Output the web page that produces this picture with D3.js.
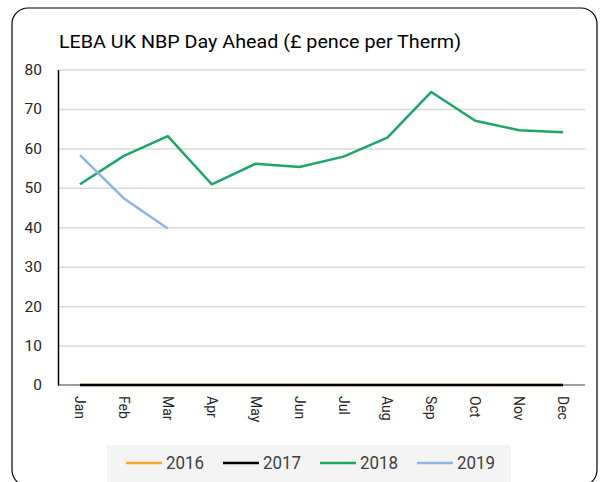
<!DOCTYPE html>
<html>
<head>
<meta charset="utf-8">
<script src="https://cdn.jsdelivr.net/npm/d3@7"></script>
<style>
  html, body { margin: 0; padding: 0; background: #fff; }
  svg { display: block; }
</style>
</head>
<body>
<svg id="chart" width="600" height="482"></svg>
<script>
// chart values
const months = ['Jan','Feb','Mar','Apr','May','Jun','Jul','Aug','Sep','Oct','Nov','Dec'];
const yTicks = [0, 10, 20, 30, 40, 50, 60, 70, 80];
const years = ['2016', '2017', '2018', '2019'];
const v2016 = [0, 0, 0, 0, 0, 0, 0, 0, 0, 0, 0, 0];
const v2017 = [0, 0, 0, 0, 0, 0, 0, 0, 0, 0, 0, 0];
const v2018 = [50.9, 58.1, 63.1, 50.9, 56.1, 55.3, 57.9, 62.7, 74.3, 67.0, 64.6, 64.1];
const v2019 = [58.3, 47.3, 39.7];
const colors = ['#ffa632', '#000000', '#1fa565', '#8fb4e3'];

const svg = d3.select('#chart');
const plotL = 58, plotR = 585, plotT = 69.5, plotB = 385;

// frame
svg.append('rect')
  .attr('x', 12).attr('y', 8).attr('width', 585).attr('height', 478)
  .attr('rx', 16).attr('fill', '#fff').attr('stroke', '#000').attr('stroke-width', 1.2);

// title
svg.append('text')
  .attr('x', 59).attr('y', 47.5)
  .attr('font-family', 'Roboto').attr('font-size', 17.5).attr('fill', '#000')
  .attr('textLength', 402).attr('lengthAdjust', 'spacingAndGlyphs')
  .text('LEBA UK NBP Day Ahead (£ pence per Therm)');

const x = d3.scaleBand().domain(months).range([plotL, plotR]);
const y = d3.scaleLinear().domain([0, 80]).range([plotB, plotT]);
const xc = m => x(m) + x.bandwidth() / 2;

// gridlines
const grid = svg.append('g')
  .attr('transform', `translate(${plotL},0)`)
  .call(d3.axisLeft(y).tickValues(yTicks.filter(t => t > 0)).tickSize(-(plotR - plotL)).tickFormat(''));
grid.select('.domain').remove();
grid.selectAll('line').attr('stroke', '#d9d9d9').attr('stroke-width', 1.5);

// bottom axis
const xAxis = svg.append('g')
  .attr('transform', `translate(0,${plotB})`)
  .call(d3.axisBottom(x).tickSize(0).tickPadding(0));
xAxis.select('.domain').attr('stroke', '#7f7f7f').attr('stroke-width', 1.5).attr('d', `M${plotL},0H${plotR}`);
xAxis.selectAll('text')
  .attr('font-family', 'Roboto').attr('font-size', 14).attr('fill', '#262626')
  .attr('text-anchor', 'start').attr('dy', '0.35em')
  .attr('transform', 'translate(0,11) rotate(90)')
  .attr('y', 0).attr('x', 0);

// left axis
const yAxis = svg.append('g')
  .attr('transform', `translate(${plotL},0)`)
  .call(d3.axisLeft(y).tickValues(yTicks).tickSize(0).tickPadding(16));
yAxis.select('.domain').attr('stroke', '#000').attr('stroke-width', 1.5);
yAxis.selectAll('text')
  .attr('font-family', 'Roboto').attr('font-size', 15.5).attr('fill', '#262626');

// series
const series = [v2016, v2017, v2018, v2019];
const line = d3.line().x((d, i) => xc(months[i])).y(d => y(d));
series.forEach((vals, k) => {
  svg.append('path')
    .attr('d', line(vals))
    .attr('fill', 'none')
    .attr('stroke', colors[k])
    .attr('stroke-width', 2.5)
    .attr('stroke-linejoin', 'round');
});

// legend
svg.append('rect')
  .attr('x', 107).attr('y', 445).attr('width', 404).attr('height', 37)
  .attr('fill', '#f4f4f4');
const legendX = [126, 223, 320, 417];
years.forEach((yr, k) => {
  const g = svg.append('g').attr('transform', `translate(${legendX[k]},463)`);
  g.append('line').attr('x1', 0).attr('x2', 36).attr('y1', 0).attr('y2', 0)
    .attr('stroke', colors[k]).attr('stroke-width', 2.5);
  g.append('text').attr('x', 40).attr('y', 0).attr('dy', '0.36em')
    .attr('font-family', 'Roboto').attr('font-size', 18).attr('fill', '#404040')
    .attr('textLength', 38).attr('lengthAdjust', 'spacingAndGlyphs')
    .text(yr);
});
</script>
</body>
</html>
